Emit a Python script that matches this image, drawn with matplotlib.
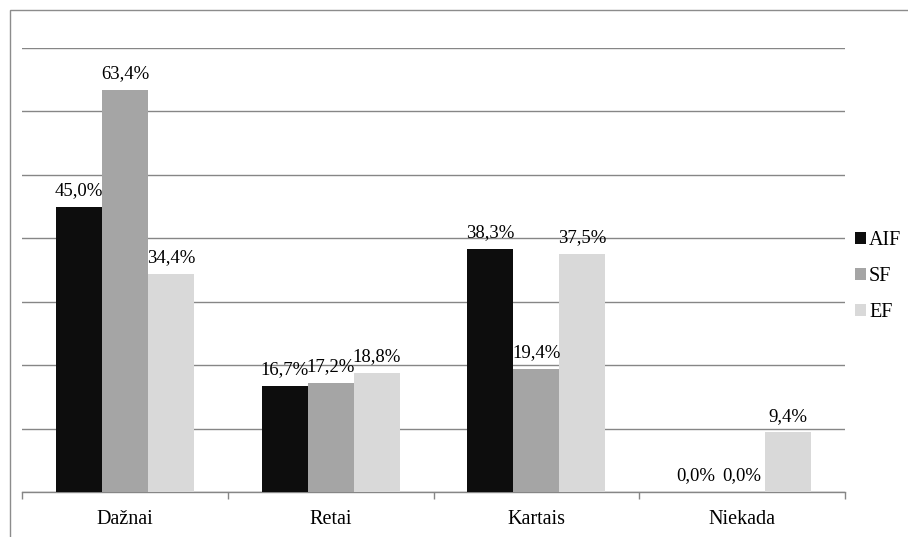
import matplotlib
matplotlib.use("Agg")
import matplotlib.pyplot as plt
from matplotlib.patches import Rectangle
import numpy as np

plt.rcParams['font.family'] = ['Liberation Serif', 'DejaVu Serif']

categories = ["Dažnai", "Retai", "Kartais", "Niekada"]
series_names = ["AIF", "SF", "EF"]
aif = [45.0, 16.7, 38.3, 0.0]
sf = [63.4, 17.2, 19.4, 0.0]
ef = [34.4, 18.8, 37.5, 9.4]
colors = ["#0d0d0d", "#a5a5a5", "#d9d9d9"]

fig = plt.figure(figsize=(9.08, 5.37), dpi=100)
ax = fig.add_axes([22 / 908, 1 - 492 / 537, (845 - 22) / 908, (492 - 48) / 537])

# outer chart border (left and top edges)
fig.add_artist(Rectangle((9.5 / 908, -0.1), 2, 1 - 9.5 / 537 + 0.1,
                         transform=fig.transFigure, fill=False,
                         edgecolor="#8c8c8c", linewidth=1.0))

x = np.arange(len(categories))
w = 0.2236
for i, (vals, name) in enumerate(zip([aif, sf, ef], series_names)):
    pos = x + (i - 1) * w
    ax.bar(pos, vals, width=w, color=colors[i], label=name, zorder=3)
    for px, v in zip(pos, vals):
        ax.text(px, v + 1.2, f"{v:.1f}%".replace(".", ","), ha="center",
                va="bottom", fontsize=13.5, zorder=4)

ax.set_xlim(-0.5, len(categories) - 0.5)
ax.set_ylim(0, 70)
ax.set_yticks(np.arange(0, 71, 10))
ax.set_yticklabels([])
ax.tick_params(axis="y", length=0)
ax.grid(True, axis="y", color="#868686", linewidth=1.0, zorder=0)

ax.set_xticks(x)
ax.set_xticklabels(categories, fontsize=14.5)
ax.tick_params(axis="x", length=0, pad=13)
# category boundary ticks
ax.set_xticks(np.arange(-0.5, len(categories), 1), minor=True)
ax.tick_params(axis="x", which="minor", length=5, color="#868686", width=1.0)

for s in ["top", "right", "left"]:
    ax.spines[s].set_visible(False)
ax.spines["bottom"].set_color("#868686")
ax.spines["bottom"].set_linewidth(1.0)

ax.legend(loc="center left", bbox_to_anchor=(0.99, 0.485), frameon=False,
          fontsize=14.5, handlelength=0.55, handleheight=0.55, handletextpad=0.15,
          labelspacing=0.85)

fig.savefig("out.png", dpi=100)
